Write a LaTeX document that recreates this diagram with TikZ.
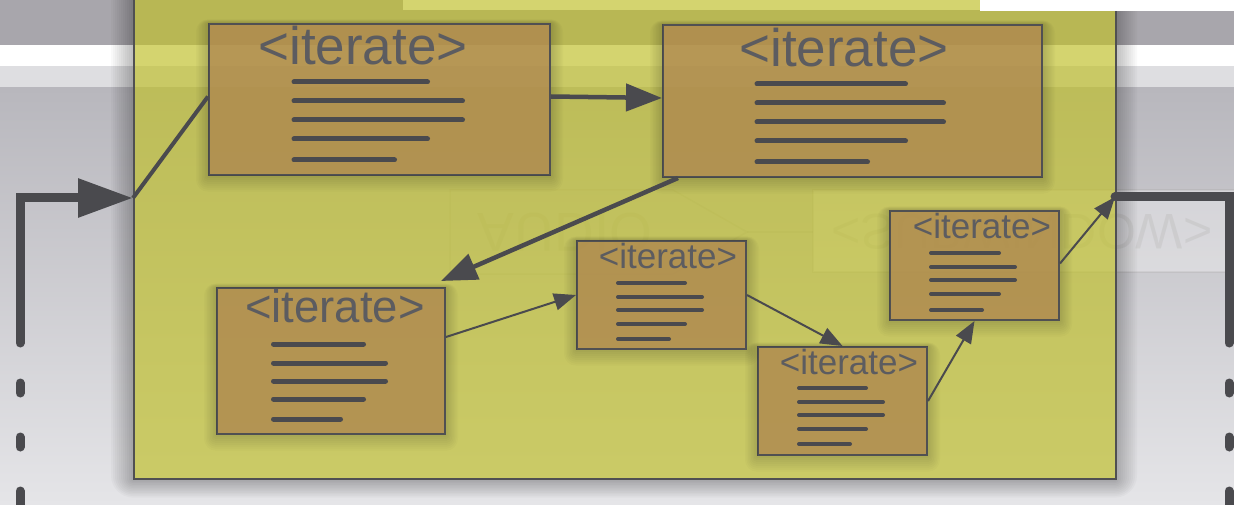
\documentclass[tikz,border=0pt]{standalone}
\usepackage{fontspec}
\setmainfont{Liberation Sans}
\usetikzlibrary{arrows.meta,calc}

\definecolor{bgtop}{RGB}{168,166,172}
\definecolor{bgband}{RGB}{222,222,225}
\definecolor{bgmid}{RGB}{184,183,189}
\definecolor{bglow}{RGB}{229,229,232}
\definecolor{panelfill}{RGB}{192,192,43}
\definecolor{boxfill}{RGB}{174,134,78}
\definecolor{ink}{RGB}{74,74,78}
\definecolor{edge}{RGB}{80,80,82}
\definecolor{titleink}{RGB}{92,92,96}
\definecolor{ghost}{RGB}{110,110,100}

\newcommand\ttlsize[1]{\fontsize{#1}{#1}\selectfont}

\begin{document}
\begin{tikzpicture}[x=1pt,y=-1pt,
  panelbox/.style={rectangle, draw=edge, line width=2pt, fill=panelfill, fill opacity=0.68, inner sep=0pt},
  itembox/.style={rectangle, draw=edge, line width=2pt, fill=boxfill, fill opacity=0.78, inner sep=0pt, anchor=north west},
  ttl/.style={anchor=base, text=titleink, inner sep=0pt},
  txtline/.style={draw=ink, line width=5pt, line cap=round},
  txtthin/.style={draw=ink, line width=4pt, line cap=round},
  conn/.style={draw=ink, line join=miter},
  bracket/.style={draw=ink, line width=9pt, line cap=round, line join=miter},
  dashseg/.style={draw=ink, line width=9pt, line cap=round},
  headbig/.style={-{Triangle[length=55pt,width=37pt]}},
  headmid/.style={-{Triangle[length=36pt,width=27pt]}},
  headsmall/.style={-{Triangle[length=22pt,width=17pt]}},
]
\useasboundingbox (0,0) rectangle (1234,505);

% backdrop: dark top strip, bright bands, soft grey gradient
\fill[bgtop] (0,0) rectangle (1234,45);
\fill[white] (0,45) rectangle (1234,66);
\fill[bgband] (0,66) rectangle (1234,88);
\shade[top color=bgmid, bottom color=bglow] (0,88) rectangle (1234,505);
\fill[white] (403,0) rectangle (1234,10);

% faint reflected pipeline behind the panel
\fill[white, opacity=0.3] (813,190) rectangle (1250,272);
\begin{scope}[opacity=0.1]
  \draw[ghost, line width=1.5pt] (450,190) -- (673,190) -- (747,232) -- (673,274) -- (450,274) -- cycle;
  \draw[ghost, line width=1.5pt] (747,232) -- (813,232);
  \draw[ghost, line width=1.5pt] (813,190) rectangle (1250,272);
\end{scope}
\begin{scope}[shift={(565,232)}, yscale=-1]
  \node[transform shape, text=ghost, text opacity=0.1, font=\ttlsize{55}] (ghostA) at (0,0) {AUDIO};
\end{scope}
\begin{scope}[shift={(1022,232)}, yscale=-1]
  \node[transform shape, text=ghost, text opacity=0.1, font=\ttlsize{50}] (ghostB) at (0,0) {<SUBWINDOW>};
\end{scope}

% soft shadow around the panel
\foreach \s in {2,4,...,22}
  \fill[black, opacity=0.022, even odd rule, rounded corners={\s pt}]
    ({133-\s},-40) rectangle ({1115+\s},{480+0.8*\s})
    [sharp corners] (133,-40) rectangle (1115,480);

% the panel
\node[panelbox, minimum width=982pt, minimum height=520pt, anchor=south west] (panel) at (133,480) {};
\fill[white] (980,0) rectangle (1234,11);

\coordinate (pin) at (133,198);
\coordinate (pout) at (1115,197);

% element boxes
\node[itembox, minimum width=341pt, minimum height=151pt] (b1) at (208,23) {};
\node[itembox, minimum width=379pt, minimum height=152pt] (b2) at (662,24) {};
\node[itembox, minimum width=228pt, minimum height=146pt] (b3) at (216,287) {};
\node[itembox, minimum width=169pt, minimum height=108pt] (b4) at (576,240) {};
\node[itembox, minimum width=169pt, minimum height=108pt] (b5) at (757,346) {};
\node[itembox, minimum width=169pt, minimum height=109pt] (b6) at (889,210) {};

% soft shadows under the element boxes
\foreach \b in {b1,b2,b3,b4,b5,b6}{
  \foreach \s in {1.5,3,...,12}{
    \fill[black, opacity=0.018, even odd rule, rounded corners={\s pt}]
      ($(\b.north west)+(-\s,{-0.3*\s})$) rectangle ($(\b.south east)+(\s,{1.3*\s})$)
      [sharp corners] (\b.north west) rectangle (\b.south east);
  }
}

% titles
\node[ttl, font=\ttlsize{53}] (t1) at (363,65) {<iterate>};
\node[ttl, font=\ttlsize{53}] (t2) at (844,67) {<iterate>};
\node[ttl, font=\ttlsize{45.5}] (t3) at (335,322) {<iterate>};
\node[ttl, font=\ttlsize{35}] (t4) at (668,268) {<iterate>};
\node[ttl, font=\ttlsize{35}] (t5) at (849,374) {<iterate>};
\node[ttl, font=\ttlsize{35}] (t6) at (982,239) {<iterate>};

% body text strokes
\foreach \yy/\xe in {82/430,101/465,120/465,139/430,160/397}
  \draw[txtline] (294,\yy) -- ({\xe-2.5},\yy);
\foreach \yy/\xe in {84/908,103/946,122/946,141/908,162/870}
  \draw[txtline] (757,\yy) -- ({\xe-2.5},\yy);
\foreach \yy/\xe in {344/366,363/388,381/388,399/366,419/343}
  \draw[txtline] (273.5,\yy) -- ({\xe-2.5},\yy);
\foreach \yy/\xe in {283/687,297/704,310/704,324/687,339/671}
  \draw[txtthin] (618,\yy) -- ({\xe-2},\yy);
\foreach \yy/\xe in {388/868,402/885,415/885,429/868,444/852}
  \draw[txtthin] (799,\yy) -- ({\xe-2},\yy);
\foreach \yy/\xe in {253/1001,267/1017,280/1017,294/1001,310/984}
  \draw[txtthin] (931,\yy) -- ({\xe-2},\yy);

% connections between the elements
\draw[conn, line width=4pt] (pin) -- ([yshift=3pt]b1.west);
\draw[conn, line width=4.5pt, headmid] ([yshift=3pt]b1.east) -- ([yshift=3pt]b2.west);
\draw[conn, line width=4.5pt, headmid] ([xshift=16pt]b2.south west) -- ([shift={(-5pt,6pt)}]b3.north east);
\draw[conn, line width=2pt, headsmall] ([yshift=24pt]b3.east) -- (b4.west);
\draw[conn, line width=2pt, headsmall] (b4.east) -- (b5.north);
\draw[conn, line width=2pt, headsmall] (b5.east) -- (b6.south);
\draw[conn, line width=2pt, headsmall] ([yshift=2pt]b6.east) -- (pout);

% outer brackets with dotted continuations
\coordinate (lb) at (20,343);
\coordinate (rb) at (1229,343);
\draw[bracket, headbig] (lb) |- (pin);
\draw[bracket] (pout) -| (rb);
\foreach \ya/\yb in {383/393,437/447,491/510}{
  \draw[dashseg] (20,\ya) -- (20,\yb);
  \draw[dashseg] (1229,\ya) -- (1229,\yb);
}
\end{tikzpicture}
\end{document}
